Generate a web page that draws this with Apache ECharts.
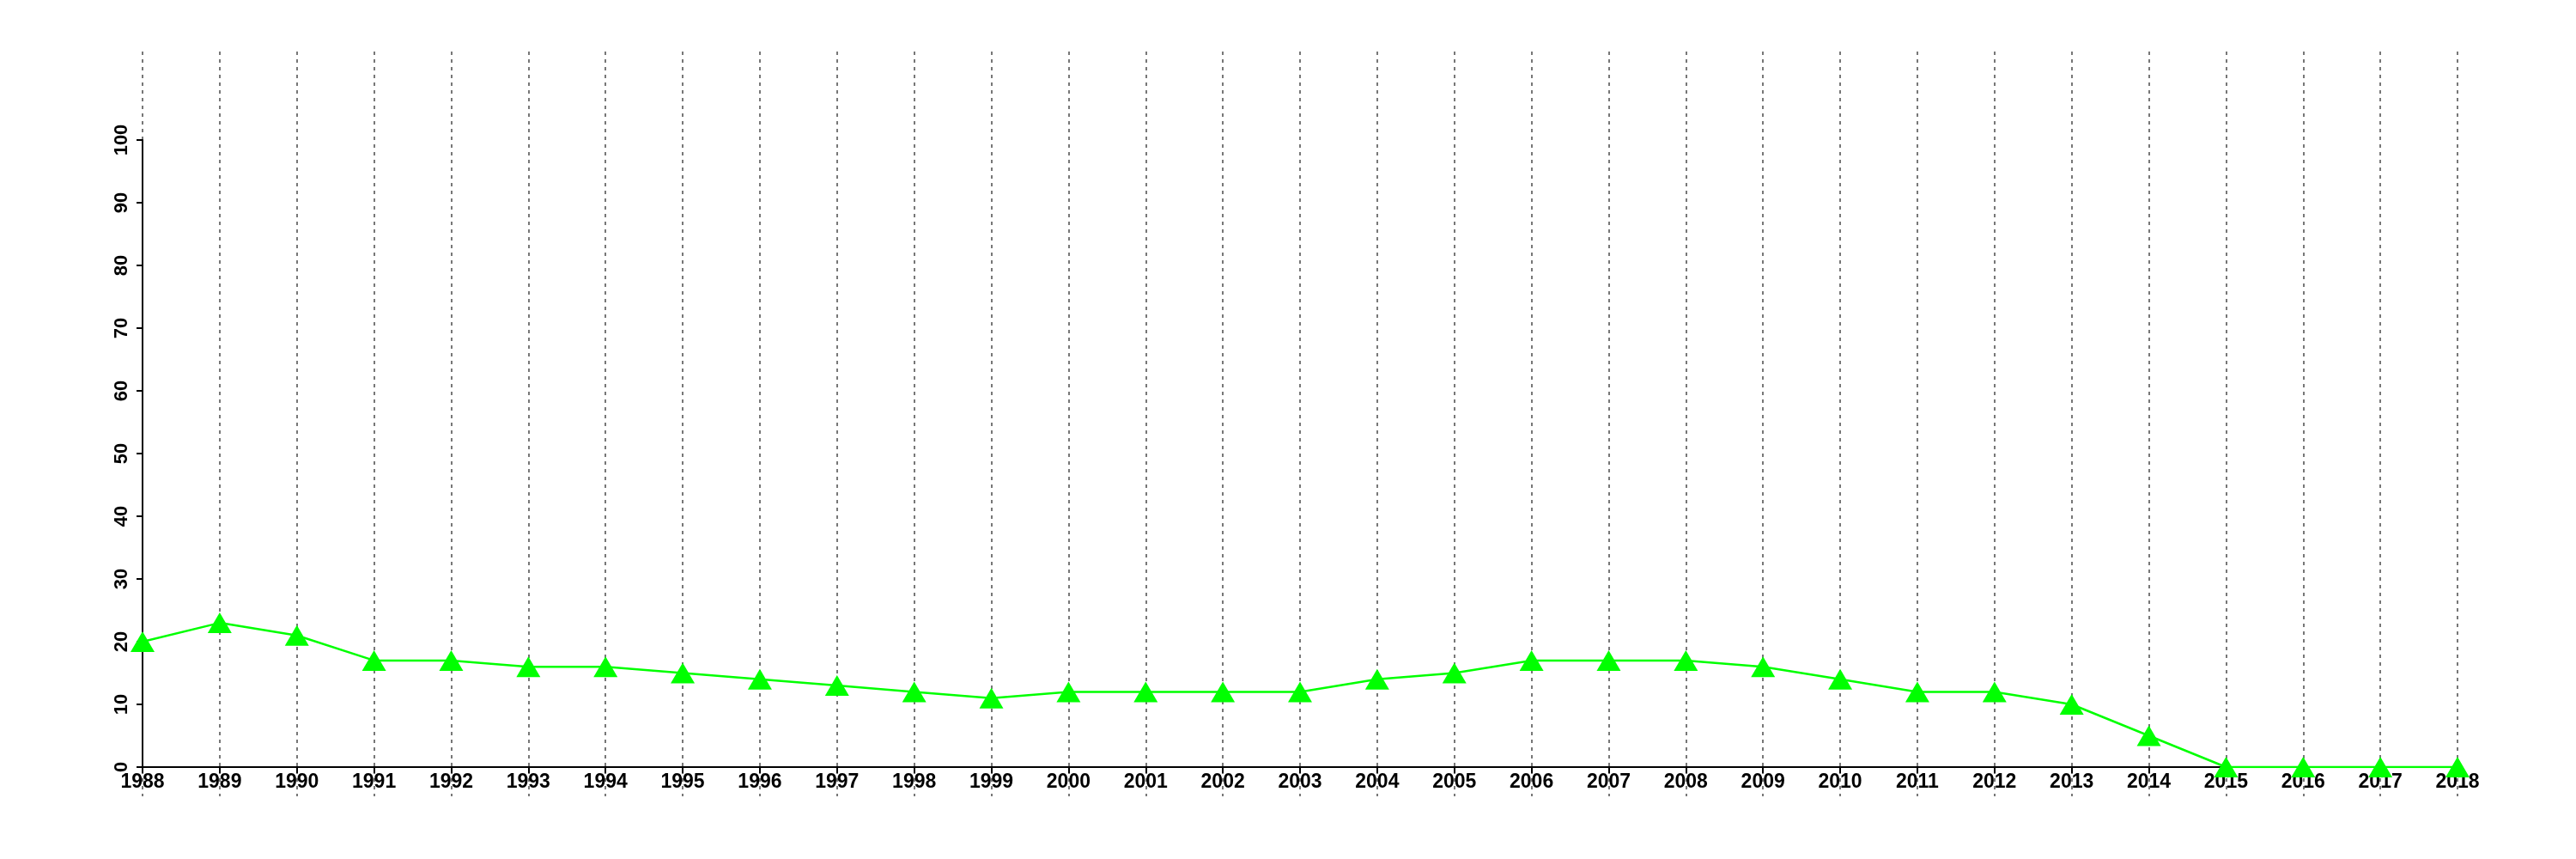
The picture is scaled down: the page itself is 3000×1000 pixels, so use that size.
<!DOCTYPE html>
<html>
<head>
<meta charset="utf-8">
<script src="https://cdn.jsdelivr.net/npm/echarts@6/dist/echarts.min.js"></script>
<style>html,body{margin:0;padding:0;background:#fff;}#c{width:3000px;height:1000px;}</style>
</head>
<body>
<div id="c"></div>
<script>
const years = ['1988','1989','1990','1991','1992','1993','1994','1995','1996','1997','1998','1999','2000','2001','2002','2003','2004','2005','2006','2007','2008','2009','2010','2011','2012','2013','2014','2015','2016','2017','2018'];
const values = [20,23,21,17,17,16,16,15,14,13,12,11,12,12,12,12,14,15,17,17,17,16,14,12,12,10,5,0,0,0,0];
const yMin = 0, yMax = 100, yStep = 10;

const font = {fontFamily:'"Liberation Sans", Arial, sans-serif', fontWeight:'bold', color:'#000'};
const chart = echarts.init(document.getElementById('c'));
chart.setOption({
  animation:false,
  backgroundColor:'#fff',
  grid:[
    {left:166, right:138, top:163, bottom:107, containLabel:false},
    {left:166, right:138, top:60, bottom:73, containLabel:false}
  ],
  xAxis:[
    {gridIndex:0, type:'category', data:years, boundaryGap:false, z:5,
     axisLine:{show:true, lineStyle:{color:'#000', width:2}},
     axisTick:{show:true, length:7, alignWithLabel:true, lineStyle:{color:'#000', width:2}},
     axisLabel:Object.assign({margin:6, interval:0, fontSize:23}, font),
     splitLine:{show:false}},
    {gridIndex:1, type:'category', data:years, boundaryGap:false, z:0,
     axisLine:{show:false}, axisTick:{show:false}, axisLabel:{show:false},
     splitLine:{show:true, interval:0, lineStyle:{color:'#777', width:2, type:[4,5]}}}
  ],
  yAxis:[
    {gridIndex:0, type:'value', min:yMin, max:yMax, interval:yStep, z:5,
     axisLine:{show:true, lineStyle:{color:'#000', width:2}},
     axisTick:{show:true, length:7, lineStyle:{color:'#000', width:2}},
     axisLabel:Object.assign({margin:13, rotate:90, fontSize:22}, font),
     splitLine:{show:false}},
    {gridIndex:1, type:'value', min:0, max:1, show:false, splitLine:{show:false}}
  ],
  series:[
    {type:'line', xAxisIndex:0, yAxisIndex:0, data:values, z:10,
     lineStyle:{color:'#00ff00', width:2.5},
     itemStyle:{color:'#00ff00'},
     symbol:'triangle', symbolSize:[28,24], showAllSymbol:true}
  ]
});
</script>
</body>
</html>
